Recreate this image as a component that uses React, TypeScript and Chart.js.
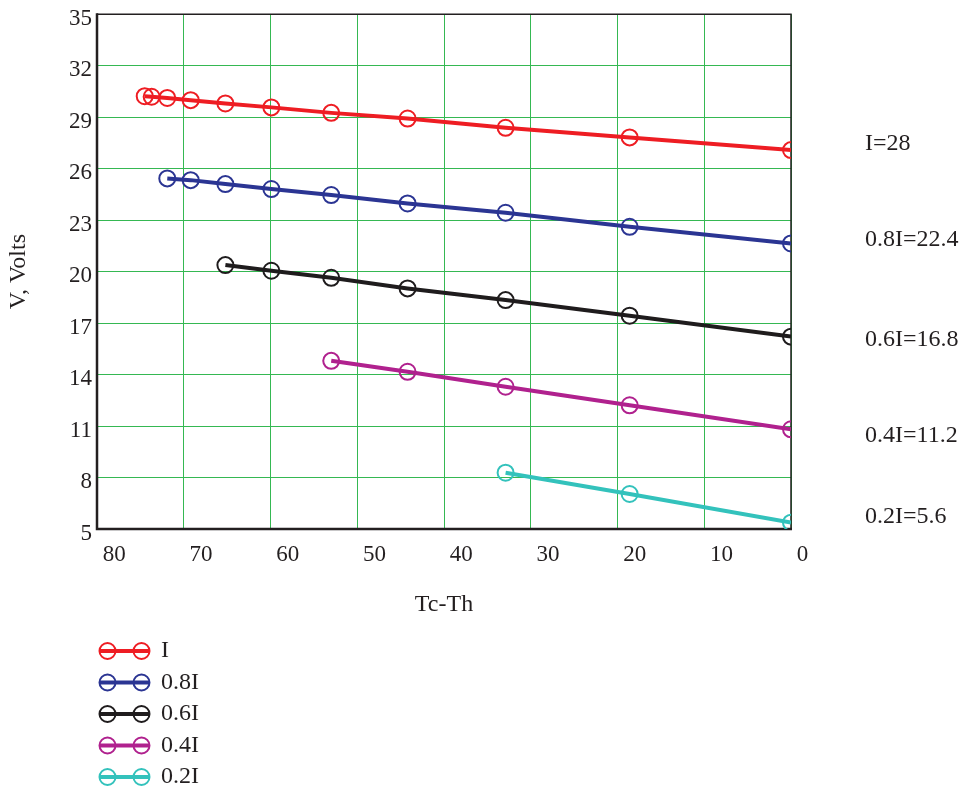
import React, { useEffect, useRef } from 'react';
import { Chart, registerables } from 'chart.js';

Chart.register(...registerables);

// Tc-Th positions shared by the series (each series uses the last N of them)
const deltaT = [74.5, 73.7, 71.9, 69.2, 65.2, 59.9, 53.0, 44.2, 32.9, 18.6, 0];

const vI = [30.22, 30.19, 30.12, 29.99, 29.8, 29.57, 29.25, 28.92, 28.38, 27.82, 27.08];
const v08I = [25.43, 25.33, 25.1, 24.81, 24.46, 23.97, 23.43, 22.61, 21.64];
const v06I = [20.38, 20.05, 19.64, 19.02, 18.34, 17.43, 16.21];
const v04I = [14.8, 14.16, 13.29, 12.21, 10.81];
const v02I = [8.28, 7.04, 5.37];

const seriesLabels = ['I', '0.8I', '0.6I', '0.4I', '0.2I'];
const seriesColors = ['#ee1d23', '#2b3593', '#1f1c1d', '#b0218e', '#33c2bc'];

const endLabels = ['I=28', '0.8I=22.4', '0.6I=16.8', '0.4I=11.2', '0.2I=5.6'];
const endLabelV = [27.43, 21.84, 16.01, 10.42, 5.7];

const X_MIN = 0;
const X_MAX = 80;
const X_STEP = 10;
const Y_MIN = 5;
const Y_MAX = 35;
const Y_STEP = 3;

const FONT = '"Liberation Serif", "Times New Roman", serif';
const TEXT = '#231f20';
const GRID = '#35b852';

const allY = [vI, v08I, v06I, v04I, v02I];

function buildPoints(ys: number[]) {
  const off = deltaT.length - ys.length;
  return ys.map((y, i) => ({ x: deltaT[off + i], y }));
}

const decor = {
  id: 'decor',
  beforeDatasetsDraw(chart: any) {
    const { ctx, chartArea: a } = chart;
    ctx.save();
    ctx.strokeStyle = TEXT;
    ctx.lineWidth = 1.5;
    ctx.beginPath();
    ctx.moveTo(a.left, a.top);
    ctx.lineTo(a.right, a.top);
    ctx.lineTo(a.right, a.bottom);
    ctx.stroke();
    ctx.lineWidth = 2.5;
    ctx.beginPath();
    ctx.moveTo(a.left, a.top - 1);
    ctx.lineTo(a.left, a.bottom);
    ctx.lineTo(a.right + 1, a.bottom);
    ctx.stroke();
    ctx.restore();
  },
  afterDraw(chart: any) {
    const { ctx, chartArea: a } = chart;
    const ys = chart.scales.y;
    ctx.save();
    ctx.font = `24px ${FONT}`;
    ctx.fillStyle = TEXT;
    ctx.textBaseline = 'middle';
    ctx.textAlign = 'left';
    endLabels.forEach((t, i) => {
      ctx.fillText(t, a.right + 74, ys.getPixelForValue(endLabelV[i]));
    });
    // legend
    const r = 8;
    chart.data.datasets.forEach((ds: any, i: number) => {
      const y = a.bottom + 122 + i * 31.5;
      const c1 = a.left + 10.5;
      const c2 = a.left + 44.5;
      ctx.strokeStyle = ds.borderColor;
      ctx.lineWidth = 4;
      ctx.beginPath();
      ctx.moveTo(c1 - r, y);
      ctx.lineTo(c2 + r, y);
      ctx.stroke();
      ctx.lineWidth = 2;
      [c1, c2].forEach((cx) => {
        ctx.beginPath();
        ctx.arc(cx, y, r, 0, Math.PI * 2);
        ctx.stroke();
      });
      ctx.fillStyle = TEXT;
      ctx.fillText(ds.label, a.left + 64, y);
    });
    ctx.restore();
  },
};

export default function App() {
  const ref = useRef<HTMLCanvasElement | null>(null);

  useEffect(() => {
    if (!ref.current) return;
    const datasets = allY.map((ys, i) => ({
      label: seriesLabels[i],
      data: buildPoints(ys),
      borderColor: seriesColors[i],
      backgroundColor: seriesColors[i],
      borderWidth: 4,
      pointRadius: 8,
      pointHoverRadius: 8,
      pointBorderWidth: 2,
      pointBackgroundColor: 'rgba(0,0,0,0)',
      pointBorderColor: seriesColors[i],
      showLine: true,
      tension: 0,
      fill: false,
    }));

    const chart = new Chart(ref.current, {
      type: 'scatter',
      data: { datasets },
      options: {
        animation: false,
        responsive: false,
        events: [],
        layout: { padding: { left: 0, top: 14, right: 177, bottom: 169 } },
        plugins: { legend: { display: false }, tooltip: { enabled: false } },
        scales: {
          x: {
            type: 'linear',
            reverse: true,
            min: X_MIN,
            max: X_MAX,
            ticks: {
              stepSize: X_STEP,
              align: 'start',
              padding: 12,
              color: TEXT,
              font: { family: FONT, size: 23 },
              maxRotation: 0,
              autoSkip: false,
              callback: (v: any) => ' ' + v,
            },
            grid: { color: GRID, lineWidth: 1, drawTicks: false },
            border: { display: false },
            title: {
              display: true,
              text: 'Tc-Th',
              color: TEXT,
              font: { family: FONT, size: 24 },
              padding: { top: 4, bottom: 4 },
            },
            afterFit: (s: any) => {
              s.height = 94;
            },
          },
          y: {
            type: 'linear',
            min: Y_MIN,
            max: Y_MAX,
            ticks: {
              stepSize: Y_STEP,
              padding: 5,
              color: TEXT,
              font: { family: FONT, size: 23, lineHeight: 0.4 },
              autoSkip: false,
              callback: (v: any) => ['', String(v)],
            },
            grid: { color: GRID, lineWidth: 1, drawTicks: false },
            border: { display: false },
            title: {
              display: true,
              text: 'V, Volts',
              color: TEXT,
              font: { family: FONT, size: 24 },
              padding: { top: 4, bottom: 4 },
            },
            afterFit: (s: any) => {
              s.width = 97;
            },
          },
        },
      },
      plugins: [decor],
    });
    return () => chart.destroy();
  }, []);

  return (
    <div style={{ position: 'absolute', left: 0, top: 0, width: 968, height: 792, background: '#fff' }}>
      <canvas ref={ref} width={968} height={792} style={{ display: 'block' }} />
    </div>
  );
}
